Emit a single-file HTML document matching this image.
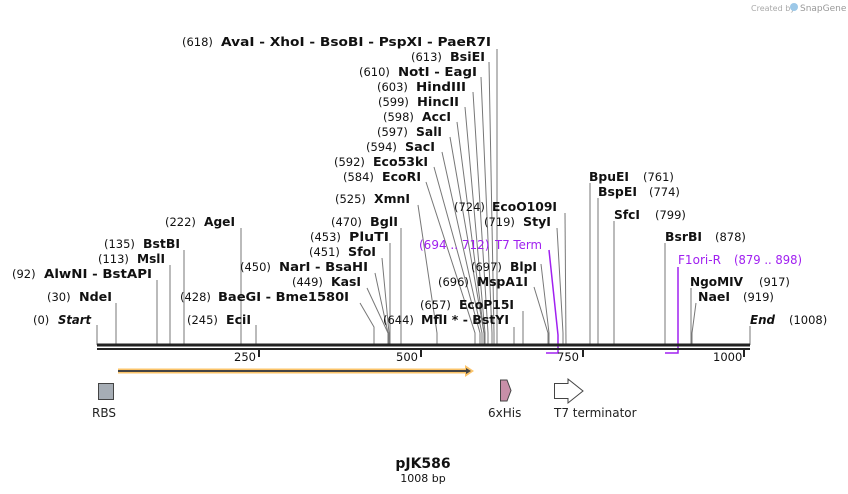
<!DOCTYPE html>
<html><head><meta charset="utf-8"><style>
html,body{margin:0;padding:0;background:#fff;}
svg{display:block;font-family:"DejaVu Sans","Liberation Sans",sans-serif;}
.n{font-size:11.5px;fill:#111;}
.b{font-size:12.5px;font-weight:bold;fill:#111;}
.p{font-size:12px;fill:#a020f0;}
.l{stroke:#777;stroke-width:1;fill:none;}
</style></head><body>
<svg width="848" height="494" viewBox="0 0 848 494">
<text x="751" y="11" font-size="8" fill="#aaa">Created by</text>
<circle cx="794" cy="7" r="4" fill="#9cc8e8"/>
<text x="800" y="11" font-size="9" fill="#999">SnapGene</text>

<g class="l">
<polyline points="497,49 497,345"/>
<polyline points="489,62 494,333 494,345"/>
<polyline points="481,77 492,333 492,345"/>
<polyline points="473,92 488,333 488,345"/>
<polyline points="465,107 485,333 485,345"/>
<polyline points="457,122 484,333 484,345"/>
<polyline points="450,137 484,333 484,345"/>
<polyline points="442,152 482,333 482,345"/>
<polyline points="434,167 480,333 480,345"/>
<polyline points="426,182 475,333 475,345"/>
<polyline points="418,205 437,333 437,345"/>
<polyline points="401,228 401,345"/>
<polyline points="390,243 390,345"/>
<polyline points="382,258 389,333 389,345"/>
<polyline points="375,273 388,333 388,345"/>
<polyline points="367,288 388,333 388,345"/>
<polyline points="360,303 374,327 374,345"/>
<polyline points="256,325 256,345"/>
<polyline points="241,228 241,345"/>
<polyline points="184,250 184,345"/>
<polyline points="170,265 170,345"/>
<polyline points="157,280 157,345"/>
<polyline points="116,303 116,345"/>
<polyline points="97,325 97,345"/>
<polyline points="565,213 566,345"/>
<polyline points="557,228 563,333 563,345"/>
<polyline points="541,264 549,333 549,345"/>
<polyline points="534,287 548,333 548,345"/>
<polyline points="523,311 523,345"/>
<polyline points="514,327 514,345"/>
<polyline points="590,183 590,345"/>
<polyline points="598,198 598,345"/>
<polyline points="614,221 614,345"/>
<polyline points="665,243 665,345"/>
<polyline points="691,288 691,345"/>
<polyline points="696,303 692,333 692,345"/>
<polyline points="750,326 750,345"/>
</g>
<g stroke="#a020f0" stroke-width="1.5" fill="none">
<polyline points="549,250 558,335 558,353 546,353"/>
<polyline points="678,267 678,353 665,353"/>
</g>

<rect x="97" y="343.5" width="653" height="3" fill="#222"/>
<rect x="97" y="348" width="653" height="2" fill="#222"/>
<g fill="#222">
<rect x="258" y="350" width="2" height="7"/>
<rect x="420" y="350" width="2" height="7"/>
<rect x="582" y="350" width="2" height="7"/>
<rect x="743" y="350" width="2" height="7"/>
</g>
<text class="n" x="234" y="361">250</text>
<text class="n" x="396" y="361">500</text>
<text class="n" x="557" y="361">750</text>
<text class="n" x="713" y="361">1000</text>

<g lengthAdjust="spacingAndGlyphs">
<text class="n" x="182" y="46">(618)</text><text class="b" x="221" y="46" textLength="270" lengthAdjust="spacingAndGlyphs">AvaI  - XhoI  - BsoBI  - PspXI  - PaeR7I</text>
<text class="n" x="411" y="61">(613)</text><text class="b" x="450" y="61" textLength="35" lengthAdjust="spacingAndGlyphs">BsiEI</text>
<text class="n" x="359" y="76">(610)</text><text class="b" x="398" y="76" textLength="79" lengthAdjust="spacingAndGlyphs">NotI  - EagI</text>
<text class="n" x="377" y="91">(603)</text><text class="b" x="416" y="91" textLength="50" lengthAdjust="spacingAndGlyphs">HindIII</text>
<text class="n" x="378" y="106">(599)</text><text class="b" x="417" y="106" textLength="42" lengthAdjust="spacingAndGlyphs">HincII</text>
<text class="n" x="383" y="121">(598)</text><text class="b" x="422" y="121" textLength="29" lengthAdjust="spacingAndGlyphs">AccI</text>
<text class="n" x="377" y="136">(597)</text><text class="b" x="416" y="136" textLength="26" lengthAdjust="spacingAndGlyphs">SalI</text>
<text class="n" x="366" y="151">(594)</text><text class="b" x="405" y="151" textLength="30" lengthAdjust="spacingAndGlyphs">SacI</text>
<text class="n" x="334" y="166">(592)</text><text class="b" x="373" y="166" textLength="55" lengthAdjust="spacingAndGlyphs">Eco53kI</text>
<text class="n" x="343" y="181">(584)</text><text class="b" x="382" y="181" textLength="39" lengthAdjust="spacingAndGlyphs">EcoRI</text>
<text class="n" x="335" y="203">(525)</text><text class="b" x="374" y="203" textLength="36" lengthAdjust="spacingAndGlyphs">XmnI</text>
<text class="n" x="331" y="226">(470)</text><text class="b" x="370" y="226" textLength="28" lengthAdjust="spacingAndGlyphs">BglI</text>
<text class="n" x="310" y="241">(453)</text><text class="b" x="349" y="241" textLength="40" lengthAdjust="spacingAndGlyphs">PluTI</text>
<text class="n" x="309" y="256">(451)</text><text class="b" x="348" y="256" textLength="28" lengthAdjust="spacingAndGlyphs">SfoI</text>
<text class="n" x="240" y="271">(450)</text><text class="b" x="279" y="271" textLength="89" lengthAdjust="spacingAndGlyphs">NarI  - BsaHI</text>
<text class="n" x="292" y="286">(449)</text><text class="b" x="331" y="286" textLength="30" lengthAdjust="spacingAndGlyphs">KasI</text>
<text class="n" x="180" y="301">(428)</text><text class="b" x="218" y="301" textLength="131" lengthAdjust="spacingAndGlyphs">BaeGI  - Bme1580I</text>
<text class="n" x="187" y="324">(245)</text><text class="b" x="226" y="324" textLength="25" lengthAdjust="spacingAndGlyphs">EciI</text>
<text class="n" x="165" y="226">(222)</text><text class="b" x="204" y="226" textLength="31" lengthAdjust="spacingAndGlyphs">AgeI</text>
<text class="n" x="104" y="248">(135)</text><text class="b" x="143" y="248" textLength="37" lengthAdjust="spacingAndGlyphs">BstBI</text>
<text class="n" x="98" y="263">(113)</text><text class="b" x="137" y="263" textLength="28" lengthAdjust="spacingAndGlyphs">MslI</text>
<text class="n" x="12" y="278">(92)</text><text class="b" x="44" y="278" textLength="108" lengthAdjust="spacingAndGlyphs">AlwNI  - BstAPI</text>
<text class="n" x="47" y="301">(30)</text><text class="b" x="79" y="301" textLength="33" lengthAdjust="spacingAndGlyphs">NdeI</text>
<text class="n" x="33" y="324">(0)</text><text class="b" x="58" y="324" font-style="italic" textLength="33" lengthAdjust="spacingAndGlyphs">Start</text>

<text class="n" x="454" y="211">(724)</text><text class="b" x="492" y="211" textLength="65" lengthAdjust="spacingAndGlyphs">EcoO109I</text>
<text class="n" x="484" y="226">(719)</text><text class="b" x="523" y="226" textLength="28" lengthAdjust="spacingAndGlyphs">StyI</text>
<text class="p" x="419" y="249">(694 .. 712)</text><text class="p" x="495" y="249" textLength="47" lengthAdjust="spacingAndGlyphs">T7 Term</text>
<text class="n" x="471" y="271">(697)</text><text class="b" x="510" y="271" textLength="27" lengthAdjust="spacingAndGlyphs">BlpI</text>
<text class="n" x="438" y="286">(696)</text><text class="b" x="477" y="286" textLength="51" lengthAdjust="spacingAndGlyphs">MspA1I</text>
<text class="n" x="420" y="309">(657)</text><text class="b" x="459" y="309" textLength="55" lengthAdjust="spacingAndGlyphs">EcoP15I</text>
<text class="n" x="383" y="324">(644)</text><text class="b" x="421" y="324" textLength="88" lengthAdjust="spacingAndGlyphs">MflI * - BstYI</text>
<text class="b" x="589" y="181" textLength="40" lengthAdjust="spacingAndGlyphs">BpuEI</text><text class="n" x="643" y="181">(761)</text>
<text class="b" x="598" y="196" textLength="39" lengthAdjust="spacingAndGlyphs">BspEI</text><text class="n" x="649" y="196">(774)</text>
<text class="b" x="614" y="219" textLength="26" lengthAdjust="spacingAndGlyphs">SfcI</text><text class="n" x="655" y="219">(799)</text>
<text class="b" x="665" y="241" textLength="37" lengthAdjust="spacingAndGlyphs">BsrBI</text><text class="n" x="715" y="241">(878)</text>
<text class="p" x="678" y="264" textLength="43" lengthAdjust="spacingAndGlyphs">F1ori-R</text><text class="p" x="734" y="264" textLength="68" lengthAdjust="spacingAndGlyphs">(879 .. 898)</text>
<text class="b" x="690" y="286" textLength="53" lengthAdjust="spacingAndGlyphs">NgoMIV</text><text class="n" x="759" y="286">(917)</text>
<text class="b" x="698" y="301" textLength="32" lengthAdjust="spacingAndGlyphs">NaeI</text><text class="n" x="743" y="301">(919)</text>
<text class="b" x="750" y="324" font-style="italic" textLength="25" lengthAdjust="spacingAndGlyphs">End</text><text class="n" x="789" y="324">(1008)</text>
</g>

<line x1="118" y1="371" x2="467" y2="371" stroke="#fbc46a" stroke-width="5"/>
<polygon points="465,365 474,371 465,377" fill="#fbc46a"/>
<line x1="118" y1="371" x2="467" y2="371" stroke="#444" stroke-width="2"/>
<polygon points="466,368 471,371 466,374" fill="#444"/>
<rect x="98.5" y="383.5" width="15" height="16" fill="#a6adb5" stroke="#444"/>
<polygon points="500.5,380 507,380 511,390.5 507,401 500.5,401" fill="#c88fa8" stroke="#444"/>
<polygon points="554.5,383.5 568,383.5 568,379 583,391 568,403 568,398.5 554.5,398.5" fill="#fff" stroke="#444"/>
<text x="92" y="417" font-size="12" fill="#222">RBS</text>
<text x="488" y="417" font-size="12" fill="#222">6xHis</text>
<text x="554" y="417" font-size="12" fill="#222">T7 terminator</text>

<text x="423" y="468" text-anchor="middle" font-size="14" font-weight="bold" fill="#111">pJK586</text>
<text x="423" y="482" text-anchor="middle" font-size="11" fill="#111">1008 bp</text>
</svg>
</body></html>
